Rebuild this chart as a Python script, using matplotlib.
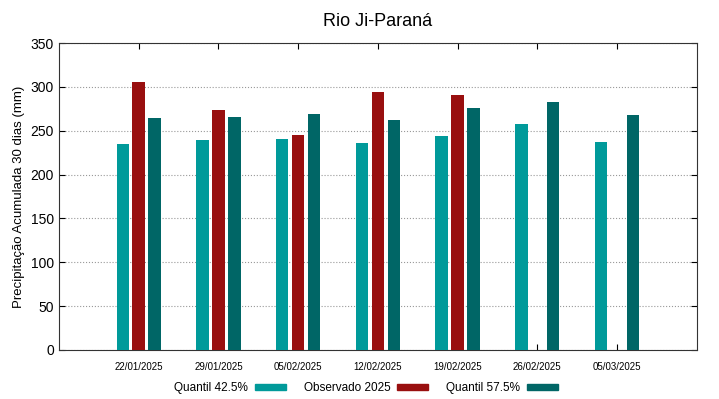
import matplotlib.pyplot as plt
import numpy as np
from matplotlib.patches import Patch

plt.rcParams['font.family'] = ['Liberation Sans', 'DejaVu Sans']

datas = ['22/01/2025', '29/01/2025', '05/02/2025', '12/02/2025',
         '19/02/2025', '26/02/2025', '05/03/2025']
q425 = [235, 239.5, 240.5, 236.5, 244, 257.5, 237.5]
obs2025 = [306, 274, 245, 294.5, 291, np.nan, np.nan]
q575 = [264.5, 266, 269, 262, 276.5, 283, 268]

cor_q425 = '#009a9a'
cor_obs = '#990f0f'
cor_q575 = '#006666'

fig = plt.figure(figsize=(7.19, 3.99), dpi=100)
ax = fig.add_axes([0.082, 0.123, 0.887, 0.769])

x = np.arange(len(datas))
w = 0.155
ax.bar(x - 0.2, q425, w, color=cor_q425, zorder=3)
ax.bar(x, obs2025, w, color=cor_obs, zorder=3)
ax.bar(x + 0.2, q575, w, color=cor_q575, zorder=3)

ax.set_xlim(-1, 7)
ax.set_ylim(0, 350)
ax.set_yticks(range(0, 351, 50))
ax.set_xticks(x)
ax.set_xticklabels(datas, fontsize=7)
ax.tick_params(axis='x', direction='in', top=True, length=4, pad=9)
ax.tick_params(axis='y', direction='in', right=True, length=4, labelsize=10)
ax.grid(axis='y', linestyle=':', color='#999999', linewidth=0.8, zorder=0)
for s in ax.spines.values():
    s.set_color('#333333')

ax.set_ylabel('Precipitação Acumulada 30 dias (mm)', fontsize=9.5)
ax.set_title('Rio Ji-Paraná', fontsize=13, pad=12)

handles = [Patch(color=cor_q425, label='Quantil 42.5%'),
           Patch(color=cor_obs, label='Observado 2025'),
           Patch(color=cor_q575, label='Quantil 57.5%')]
fig.legend(handles=handles, loc='center', bbox_to_anchor=(0.509, 0.028), ncol=3,
           frameon=False, markerfirst=False, fontsize=8.5, handlelength=2.6,
           handleheight=0.4, columnspacing=1.5, handletextpad=0.6)

fig.savefig('out.png', dpi=100)
